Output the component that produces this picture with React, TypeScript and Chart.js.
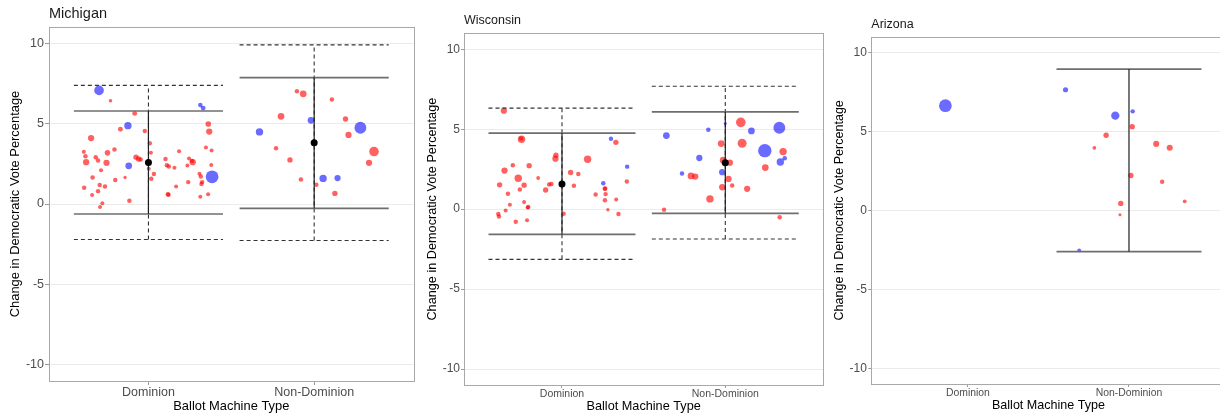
import React, { useEffect, useRef } from "react";
import { Chart, registerables } from "chart.js";

Chart.register(...registerables);

// ---------------- DATA ----------------
const categories = ["Dominion", "Non-Dominion"];
const yTicks = [-10, -5, 0, 5, 10];
const yTitle = "Change in Democratic Vote Percentage";
const xTitle = "Ballot Machine Type";

// Michigan counties: x = machine type (1 Dominion, 2 Non-Dominion) incl. jitter
const michiganX = [
  0.702, 0.771, 1.313, 1.33, 0.917, 0.876, 0.831, 1.361, 1.367, 0.978, 0.654, 1.008,
  0.61, 0.62, 0.624, 0.682, 0.696, 0.753, 0.747, 0.795, 0.925, 0.94, 0.953, 0.881,
  1.002, 1.033, 1.017, 1.015, 0.714, 0.663, 0.8, 0.859, 0.612, 0.706, 0.738, 0.696,
  0.66, 0.722, 0.708, 0.885, 1.103, 1.111, 1.123, 1.185, 1.157, 1.245, 1.235, 1.267,
  1.263, 1.347, 1.381, 1.379, 1.308, 1.316, 1.324, 1.32, 1.384, 1.24, 1.167, 1.117,
  1.121, 1.313, 1.36,
  1.896, 1.934, 2.107, 1.8, 1.981, 2.189, 1.67, 2.279, 2.207, 1.77, 2.361, 1.854,
  2.331, 1.92, 2.054, 2.141, 2.013, 2.125,
];
const michiganY = [
  7.06, 6.42, 6.15, 5.96, 5.63, 4.87, 4.64, 4.97, 4.5, 4.54, 4.1, 3.78,
  3.24, 2.97, 2.6, 2.91, 2.7, 3.18, 2.56, 3.38, 2.91, 2.8, 2.76, 2.37,
  2.19, 1.86, 1.57, 3.18, 2.1, 1.65, 1.49, 1.65, 1.01, 1.18, 1.09, 0.8,
  0.56, 0.04, -0.19, 0.2, 2.8, 2.41, 2.33, 3.28, 2.25, 2.83, 2.39, 2.6,
  2.68, 3.51, 3.32, 2.43, 1.88, 1.71, 1.36, 1.24, 1.69, 1.36, 1.09, 0.6,
  0.58, 0.45, 0.6,
  7.0, 6.85, 6.5, 5.45, 5.2, 5.28, 4.48, 4.74, 4.29, 3.47, 3.26, 2.74,
  2.56, 1.52, 1.59, 1.61, 1.19, 0.66,
];
const michiganSize = [
  4.3, 1.6, 2.0, 2.2, 2.2, 3.3, 2.2, 2.5, 2.8, 2.0, 2.8, 2.0,
  1.8, 2.0, 2.8, 2.0, 2.0, 2.5, 2.8, 2.0, 2.4, 2.4, 2.0, 3.0,
  1.8, 2.0, 2.0, 1.8, 1.8, 2.0, 2.0, 1.5, 2.0, 2.0, 2.0, 2.0,
  1.8, 1.8, 1.8, 2.0, 2.0, 2.0, 2.0, 1.8, 1.8, 1.8, 1.8, 2.8,
  2.0, 1.8, 1.8, 1.8, 1.8, 2.0, 2.0, 2.0, 5.7, 2.0, 1.8, 2.0,
  2.0, 1.8, 1.8,
  2.0, 3.0, 2.0, 3.0, 3.0, 2.4, 3.3, 5.3, 2.8, 2.0, 4.3, 2.4,
  2.8, 2.0, 3.3, 2.8, 2.0, 2.4,
];
const michiganParty = [
  "D", "R", "D", "D", "R", "D", "R", "R", "R", "R", "R", "R",
  "R", "R", "R", "R", "R", "R", "R", "R", "R", "R", "R", "D",
  "R", "R", "R", "R", "R", "R", "R", "R", "R", "R", "R", "R",
  "R", "R", "R", "R", "R", "R", "R", "R", "R", "R", "R", "R",
  "R", "R", "R", "R", "R", "R", "R", "R", "D", "R", "R", "R",
  "R", "R", "R",
  "R", "R", "R", "R", "D", "R", "D", "D", "R", "R", "R", "R",
  "R", "R", "D", "D", "R", "R",
];
const michiganMean = [2.58, 3.8];
const michiganSolidHi = [5.78, 7.86];
const michiganSolidLo = [-0.62, -0.27];
const michiganDashHi = [7.37, 9.89];
const michiganDashLo = [-2.21, -2.27];

// Wisconsin
const wisconsinX = [
  0.644, 0.752, 0.75, 1.3, 1.33, 0.963, 0.96, 1.157, 0.699, 0.799, 1.399, 0.648,
  1.053, 1.1, 0.732, 0.854, 0.618, 0.768, 0.742, 0.921, 0.935, 0.9, 1.073, 1.253,
  1.265, 1.262, 0.669, 1.206, 1.267, 1.263, 1.332, 0.768, 0.681, 0.793, 0.79, 0.655,
  0.61, 0.614, 1.01, 1.281, 1.346, 0.717, 0.786, 1.397,
  2.095, 2.0, 1.896, 2.16, 2.331, 1.639, 1.975, 2.103, 2.242, 2.354, 2.364, 2.337,
  1.841, 1.987, 2.028, 2.245, 1.735, 1.79, 1.816, 1.981, 2.02, 1.981, 2.042, 2.134,
  1.906, 1.625, 2.333,
];
const wisconsinY = [
  6.16, 4.37, 4.42, 4.41, 4.18, 3.37, 3.16, 3.12, 2.74, 2.72, 2.66, 2.41,
  2.29, 2.2, 1.93, 1.95, 1.52, 1.5, 1.23, 1.54, 1.58, 1.2, 1.46, 1.62,
  1.29, 1.27, 0.96, 0.92, 0.94, 0.56, 0.6, 0.44, 0.27, 0.14, 0.1, -0.08,
  -0.31, -0.46, -0.29, -0.04, -0.31, -0.79, -0.69, 1.73,
  5.43, 5.36, 4.97, 4.89, 5.09, 4.6, 4.1, 4.12, 3.66, 3.6, 3.18, 2.95,
  3.2, 3.06, 2.91, 2.6, 2.23, 2.08, 2.04, 2.31, 1.89, 1.37, 1.48, 1.27,
  0.64, -0.04, -0.5,
];
const wisconsinSize = [
  2.8, 3.3, 2.0, 2.0, 2.4, 2.4, 2.8, 3.3, 2.0, 2.4, 2.0, 2.8,
  2.4, 2.0, 3.3, 1.7, 2.4, 2.4, 2.0, 2.0, 2.0, 2.4, 2.0, 2.0,
  2.0, 2.0, 2.0, 2.0, 2.0, 2.0, 1.8, 1.8, 1.8, 2.0, 1.8, 1.8,
  2.0, 2.0, 2.0, 1.5, 2.0, 2.0, 1.8, 2.0,
  4.3, 1.4, 2.0, 3.0, 5.3, 3.0, 3.0, 4.0, 6.0, 3.3, 2.0, 3.3,
  2.8, 3.0, 2.8, 3.0, 2.0, 3.0, 2.8, 2.8, 2.8, 2.8, 2.0, 2.8,
  3.3, 2.0, 2.0,
];
const wisconsinParty = [
  "R", "R", "R", "D", "R", "R", "R", "R", "R", "R", "D", "R",
  "R", "R", "R", "R", "R", "R", "R", "R", "R", "R", "R", "D",
  "R", "R", "R", "R", "R", "R", "R", "R", "R", "R", "R", "R",
  "R", "R", "R", "R", "R", "R", "R", "R",
  "R", "D", "D", "D", "D", "D", "R", "R", "D", "R", "D", "D",
  "D", "R", "R", "R", "D", "R", "R", "D", "R", "R", "R", "R",
  "R", "R", "R",
];
const wisconsinMean = [1.58, 2.91];
const wisconsinSolidHi = [4.76, 6.09];
const wisconsinSolidLo = [-1.58, -0.27];
const wisconsinDashHi = [6.32, 7.69];
const wisconsinDashLo = [-3.14, -1.87];

// Arizona
const arizonaX = [
  0.86,
  1.606, 1.915, 2.023, 2.02, 1.858, 1.785, 2.169, 2.253, 2.012, 2.206, 2.346, 1.949,
  1.944, 1.691,
];
const arizonaY = [
  6.63,
  7.64, 6.0, 6.27, 5.3, 4.76, 3.96, 4.21, 3.96, 2.21, 1.81, 0.57, 0.44,
  -0.28, -2.53,
];
const arizonaSize = [
  5.7,
  2.3, 3.7, 2.0, 2.4, 2.4, 1.7, 2.7, 2.7, 2.4, 2.0, 1.7, 2.4,
  1.4, 1.7,
];
const arizonaParty = [
  "D",
  "D", "D", "D", "R", "R", "R", "R", "R", "R", "R", "R", "R",
  "R", "D",
];
const arizonaMean: (number | null)[] = [null, null];
const arizonaSolidHi: (number | null)[] = [null, 8.95];
const arizonaSolidLo: (number | null)[] = [null, -2.61];
const arizonaDashHi: (number | null)[] = [null, null];
const arizonaDashLo: (number | null)[] = [null, null];

// ---------------- STYLE / LAYOUT ----------------
const FONT = "'Liberation Sans', Arial, Helvetica, sans-serif";
const RED = "rgba(255, 0, 0, 0.62)";
const BLUE = "rgba(0, 0, 255, 0.58)";
const BAR_HALF = 0.45;
const RADIUS_SCALE = 1.12;

type PanelData = {
  title: string;
  xs: number[];
  ys: number[];
  sizes: number[];
  party: string[];
  mean: (number | null)[];
  solidHi: (number | null)[];
  solidLo: (number | null)[];
  dashHi: (number | null)[];
  dashLo: (number | null)[];
};

type PanelLayout = {
  left: number;
  width: number;
  plotTop: number;
  plotBottom: number;
  yScaleW: number;
  padRight: number;
  titleSize: number;
  titleY: number;
  yTickSize: number;
  xTickSize: number;
  axisTitleSize: number;
  tickLen: number;
  yTickPad: number;
  yTitlePad: number;
  xTitlePad: number;
};

const panels: { data: PanelData; layout: PanelLayout }[] = [
  {
    data: {
      title: "Michigan",
      xs: michiganX, ys: michiganY, sizes: michiganSize, party: michiganParty,
      mean: michiganMean, solidHi: michiganSolidHi, solidLo: michiganSolidLo,
      dashHi: michiganDashHi, dashLo: michiganDashLo,
    },
    layout: {
      left: 0, width: 420, plotTop: 27, plotBottom: 381, yScaleW: 49, padRight: 5,
      titleSize: 14.5, titleY: 14, yTickSize: 12.5, xTickSize: 12.5, axisTitleSize: 12.9,
      tickLen: 4, yTickPad: 1, yTitlePad: 8, xTitlePad: 0.3,
    },
  },
  {
    data: {
      title: "Wisconsin",
      xs: wisconsinX, ys: wisconsinY, sizes: wisconsinSize, party: wisconsinParty,
      mean: wisconsinMean, solidHi: wisconsinSolidHi, solidLo: wisconsinSolidLo,
      dashHi: wisconsinDashHi, dashLo: wisconsinDashLo,
    },
    layout: {
      left: 420, width: 410, plotTop: 33.3, plotBottom: 385, yScaleW: 44, padRight: 5.7,
      titleSize: 12.5, titleY: 21, yTickSize: 12, xTickSize: 10.5, axisTitleSize: 12.7,
      tickLen: 3, yTickPad: 1, yTitlePad: 4.7, xTitlePad: 0,
    },
  },
  {
    data: {
      title: "Arizona",
      xs: arizonaX, ys: arizonaY, sizes: arizonaSize, party: arizonaParty,
      mean: arizonaMean, solidHi: arizonaSolidHi, solidLo: arizonaSolidLo,
      dashHi: arizonaDashHi, dashLo: arizonaDashLo,
    },
    layout: {
      left: 830, width: 402, plotTop: 36.7, plotBottom: 384, yScaleW: 41.3, padRight: 5,
      titleSize: 12.5, titleY: 25, yTickSize: 12, xTickSize: 10.4, axisTitleSize: 12.55,
      tickLen: 3, yTickPad: 1.5, yTitlePad: 1.8, xTitlePad: 0.5,
    },
  },
];

const HEIGHT = 414;

function segment(x0: number, y0: number, x1: number, y1: number, color: string, width: number, dash: number[], order: number) {
  return {
    type: "line" as const,
    data: [{ x: x0, y: y0 }, { x: x1, y: y1 }],
    borderColor: color,
    borderWidth: width,
    borderDash: dash,
    pointRadius: 0,
    fill: false,
    tension: 0,
    order,
  };
}

function buildDatasets(d: PanelData) {
  const ds: any[] = [];
  ds.push({
    type: "bubble",
    data: d.xs.map((x, i) => ({ x, y: d.ys[i], r: d.sizes[i] * RADIUS_SCALE })),
    backgroundColor: d.party.map((p) => (p === "D" ? BLUE : RED)),
    borderWidth: 0,
    order: 5,
  });
  categories.forEach((_, i) => {
    const c = i + 1;
    const dh = d.dashHi[i];
    const dl = d.dashLo[i];
    if (dh != null && dl != null) {
      ds.push(segment(c - BAR_HALF, dh, c + BAR_HALF, dh, "#333333", 1.1, [4, 3], 4));
      ds.push(segment(c - BAR_HALF, dl, c + BAR_HALF, dl, "#333333", 1.1, [4, 3], 4));
      ds.push(segment(c, dl, c, dh, "#333333", 1.1, [4, 3], 4));
    }
    const sh = d.solidHi[i];
    const sl = d.solidLo[i];
    if (sh != null && sl != null) {
      ds.push(segment(c - BAR_HALF, sh, c + BAR_HALF, sh, "#6e6e6e", 1.7, [], 3));
      ds.push(segment(c - BAR_HALF, sl, c + BAR_HALF, sl, "#6e6e6e", 1.7, [], 3));
      ds.push(segment(c, sl, c, sh, "#1f1f1f", 1.2, [], 2));
    }
  });
  const meanPts = d.mean
    .map((m, i) => (m == null ? null : { x: i + 1, y: m, r: 3.5 }))
    .filter((p) => p != null);
  if (meanPts.length) {
    ds.push({
      type: "bubble",
      data: meanPts,
      backgroundColor: "#000000",
      borderWidth: 0,
      order: 1,
    });
  }
  return ds;
}

function Panel({ data, layout }: { data: PanelData; layout: PanelLayout }) {
  const ref = useRef<HTMLCanvasElement | null>(null);
  useEffect(() => {
    if (!ref.current) return;
    const L = layout;
    const framePlugin = {
      id: "frameAndTitle",
      afterDraw(chart: any) {
        const { ctx, chartArea } = chart;
        ctx.save();
        ctx.strokeStyle = "#a8a8a8";
        ctx.lineWidth = 1;
        ctx.strokeRect(
          Math.round(chartArea.left) + 0.5,
          Math.round(chartArea.top) + 0.5,
          Math.round(chartArea.right - chartArea.left),
          Math.round(chartArea.bottom - chartArea.top)
        );
        ctx.fillStyle = "#1a1a1a";
        ctx.font = `${L.titleSize}px ${FONT}`;
        ctx.textAlign = "left";
        ctx.textBaseline = "middle";
        ctx.fillText(data.title, chartArea.left, L.titleY);
        ctx.restore();
      },
    };
    const chart = new Chart(ref.current, {
      type: "bubble",
      data: { datasets: buildDatasets(data) },
      options: {
        responsive: false,
        animation: false,
        events: [],
        layout: { padding: { top: L.plotTop, right: L.padRight, bottom: 0, left: 0 } },
        plugins: {
          legend: { display: false },
          tooltip: { enabled: false },
          title: { display: false },
        },
        scales: {
          x: {
            type: "linear",
            position: "bottom",
            min: 0.4,
            max: 2.6,
            afterBuildTicks: (s: any) => {
              s.ticks = categories.map((_, i) => ({ value: i + 1 }));
            },
            afterFit: (s: any) => {
              s.height = HEIGHT - L.plotBottom;
            },
            ticks: {
              callback: (v: any) => categories[Math.round(Number(v)) - 1],
              color: "#4d4d4d",
              font: { family: FONT, size: L.xTickSize },
              padding: 0,
              maxRotation: 0,
              autoSkip: false,
            },
            grid: {
              drawOnChartArea: false,
              drawTicks: true,
              tickLength: L.tickLen,
              tickColor: "#9a9a9a",
              color: "#9a9a9a",
            },
            border: { display: false },
            title: {
              display: true,
              text: xTitle,
              color: "#000000",
              font: { family: FONT, size: L.axisTitleSize },
              padding: { top: 0, bottom: L.xTitlePad },
            },
          },
          y: {
            type: "linear",
            position: "left",
            min: -11,
            max: 11,
            afterBuildTicks: (s: any) => {
              s.ticks = yTicks.map((v) => ({ value: v }));
            },
            afterFit: (s: any) => {
              s.width = L.yScaleW;
            },
            ticks: {
              callback: (v: any) => String(v),
              color: "#4d4d4d",
              font: { family: FONT, size: L.yTickSize },
              padding: L.yTickPad,
            },
            grid: {
              color: "#ebebeb",
              lineWidth: 1,
              drawTicks: true,
              tickLength: L.tickLen,
              tickColor: "#9a9a9a",
            },
            border: { display: false },
            title: {
              display: true,
              text: yTitle,
              color: "#000000",
              font: { family: FONT, size: L.axisTitleSize },
              padding: { top: L.yTitlePad, bottom: 0 },
            },
          },
        },
      } as any,
      plugins: [framePlugin],
    });
    return () => chart.destroy();
  }, [data, layout]);
  return (
    <canvas
      ref={ref}
      width={layout.width}
      height={HEIGHT}
      style={{ position: "absolute", left: layout.left, top: 0, width: layout.width, height: HEIGHT }}
    />
  );
}

export default function App() {
  return (
    <div
      style={{
        position: "absolute",
        left: 0,
        top: 0,
        width: 1220,
        height: HEIGHT,
        overflow: "hidden",
        background: "#ffffff",
      }}
    >
      {panels.map((p) => (
        <Panel key={p.data.title} data={p.data} layout={p.layout} />
      ))}
    </div>
  );
}
